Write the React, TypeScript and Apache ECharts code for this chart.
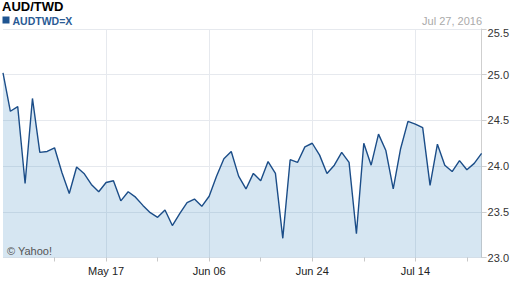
import React, { useEffect, useRef } from 'react';
import * as echarts from 'echarts';

const dates = [
  'Apr 27', 'Apr 28', 'Apr 29', 'May 02', 'May 03', 'May 04', 'May 05', 'May 06', 'May 09', 'May 10',
  'May 11', 'May 12', 'May 13', 'May 16', 'May 17', 'May 18', 'May 19', 'May 20', 'May 23', 'May 24',
  'May 25', 'May 26', 'May 27', 'May 30', 'May 31', 'Jun 01', 'Jun 02', 'Jun 03', 'Jun 06', 'Jun 07',
  'Jun 08', 'Jun 09', 'Jun 10', 'Jun 13', 'Jun 14', 'Jun 15', 'Jun 16', 'Jun 17', 'Jun 20', 'Jun 21',
  'Jun 22', 'Jun 23', 'Jun 24', 'Jun 27', 'Jun 28', 'Jun 29', 'Jun 30', 'Jul 01', 'Jul 04', 'Jul 05',
  'Jul 06', 'Jul 07', 'Jul 08', 'Jul 11', 'Jul 12', 'Jul 13', 'Jul 14', 'Jul 15', 'Jul 18', 'Jul 19',
  'Jul 20', 'Jul 21', 'Jul 22', 'Jul 25', 'Jul 26', 'Jul 27',
];

const rates = [
  25.02, 24.60, 24.65, 23.81, 24.74, 24.15, 24.16, 24.20, 23.93, 23.70,
  23.99, 23.92, 23.80, 23.72, 23.82, 23.84, 23.62, 23.72, 23.66, 23.57,
  23.49, 23.44, 23.52, 23.35, 23.48, 23.60, 23.64, 23.56, 23.67, 23.89,
  24.08, 24.16, 23.89, 23.75, 23.92, 23.84, 24.05, 23.92, 23.21, 24.07,
  24.04, 24.21, 24.25, 24.12, 23.92, 24.01, 24.15, 24.04, 23.26, 24.25,
  24.01, 24.35, 24.17, 23.75, 24.19, 24.49, 24.46, 24.42, 23.79, 24.24,
  24.01, 23.94, 24.06, 23.96, 24.03, 24.14,
];

const yMin = 23.0;
const yMax = 25.5;
const yStep = 0.5;

const title = 'AUD/TWD';
const seriesName = 'AUDTWD=X';
const dateStamp = 'Jul 27, 2016';
const credit = '© Yahoo!';

const FONT = 'Liberation Sans, Arial, Helvetica, sans-serif';

export default function App() {
  const ref = useRef<HTMLDivElement>(null);

  useEffect(() => {
    if (!ref.current) return;
    const chart = echarts.init(ref.current, undefined, { renderer: 'svg' });
    chart.setOption({
      animation: false,
      backgroundColor: '#ffffff',
      grid: { left: 3, top: 29, width: 481, height: 228.5, containLabel: false },
      xAxis: {
        type: 'category',
        data: dates,
        boundaryGap: false,
        axisLine: { show: false },
        axisTick: {
          show: true,
          interval: (i: number) => i > 0 && i % 7 === 0,
          length: 4,
          lineStyle: { color: '#c8c8c8' },
        },
        axisLabel: {
          interval: (i: number) => i > 0 && i % 14 === 0,
          color: '#222',
          fontSize: 11,
          fontFamily: FONT,
          margin: 8,
        },
        splitLine: {
          show: true,
          interval: (i: number) => i > 0 && i % 14 === 0,
          lineStyle: { color: '#e6e9ee', width: 1 },
        },
      },
      yAxis: {
        type: 'value',
        position: 'right',
        min: yMin,
        max: yMax,
        interval: yStep,
        axisLine: { show: true, lineStyle: { color: '#cfcfcf' } },
        axisTick: { show: true, length: 5, lineStyle: { color: '#cfcfcf' } },
        axisLabel: {
          color: '#333',
          fontSize: 11,
          fontFamily: FONT,
          margin: 6,
          formatter: (v: number) => (v >= yMax ? '{t|' + v.toFixed(1) + '}' : v.toFixed(1)),
          rich: { t: { padding: [7, 0, 0, 0], color: '#333', fontSize: 11, fontFamily: FONT } },
        },
        splitLine: { show: true, lineStyle: { color: '#e6e9ee', width: 1 } },
      },
      series: [
        {
          type: 'line',
          name: seriesName,
          data: rates,
          symbol: 'none',
          lineStyle: { color: '#1b4d88', width: 1.4 },
          areaStyle: { color: 'rgba(70,140,195,0.22)', opacity: 1, origin: 'start' },
          z: 3,
        },
      ],
      graphic: [
        {
          type: 'text',
          x: 2,
          y: 6.5,
          z: 10,
          style: { text: title, font: 'bold 13px ' + FONT, fill: '#000', textAlign: 'left', textVerticalAlign: 'middle' },
        },
        {
          type: 'rect',
          x: 2.5,
          y: 16.5,
          z: 10,
          shape: { width: 7, height: 7 },
          style: { fill: '#1f5591' },
        },
        {
          type: 'text',
          x: 12.5,
          y: 21,
          z: 10,
          style: { text: seriesName, font: 'bold 10.5px ' + FONT, fill: '#2a5a94', textAlign: 'left', textVerticalAlign: 'middle' },
        },
        {
          type: 'text',
          x: 482,
          y: 20.5,
          z: 10,
          style: { text: dateStamp, font: '11px ' + FONT, fill: '#aaaaaa', textAlign: 'right', textVerticalAlign: 'middle' },
        },
        {
          type: 'text',
          x: 7,
          y: 250.5,
          z: 10,
          style: { text: credit, font: '11px ' + FONT, fill: '#555555', textAlign: 'left', textVerticalAlign: 'middle' },
        },
      ],
    });
    return () => chart.dispose();
  }, []);

  return (
    <div
      ref={ref}
      style={{ position: 'fixed', left: 0, top: 0, width: 512, height: 288, background: '#fff' }}
    />
  );
}
